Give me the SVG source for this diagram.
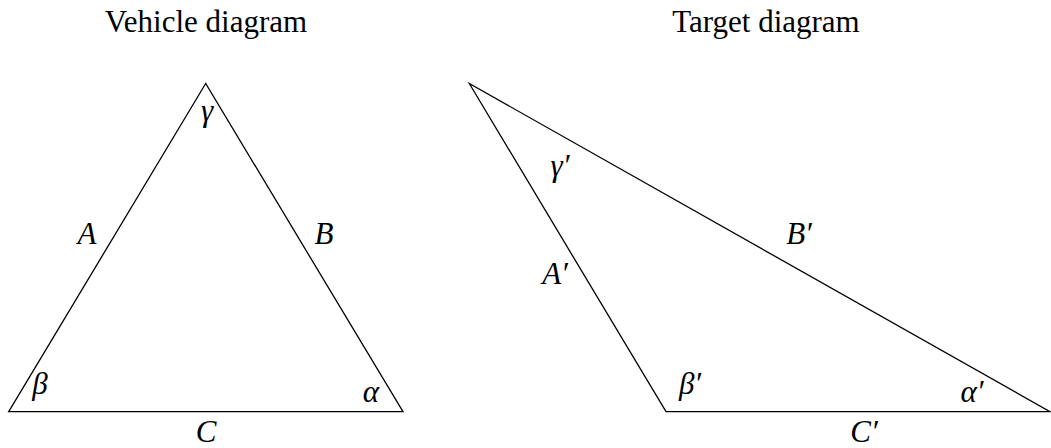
<svg xmlns="http://www.w3.org/2000/svg" width="1051" height="448" viewBox="0 0 1051 448">
<style>
.title{font-family:"Liberation Serif",serif;font-size:31px;fill:#000;text-anchor:middle}
.lbl{font-family:"Liberation Serif",serif;font-style:italic;font-size:31px;fill:#000;text-anchor:middle}
.edge{fill:none;stroke:#000;stroke-width:1.3;stroke-linejoin:miter}
</style>
<rect width="1051" height="448" fill="#fff"/>
<g id="vehicle">
<text class="title" x="206" y="32">Vehicle diagram</text>
<polygon class="edge" points="205.7,83.5 8.7,411.7 403,411.7"/>
<text class="lbl" x="207" y="121">γ</text>
<text class="lbl" x="87" y="244">A</text>
<text class="lbl" x="324" y="244">B</text>
<text class="lbl" x="40" y="394">β</text>
<text class="lbl" x="371" y="402">α</text>
<text class="lbl" x="206" y="442">C</text>
</g>
<g id="target">
<text class="title" x="766" y="32">Target diagram</text>
<polygon class="edge" points="469.3,83.5 666,411.7 1050,411.7"/>
<text class="lbl" x="560" y="176">γ′</text>
<text class="lbl" x="555" y="284">A′</text>
<text class="lbl" x="799" y="244">B′</text>
<text class="lbl" x="690" y="394">β′</text>
<text class="lbl" x="972" y="402">α′</text>
<text class="lbl" x="864" y="442">C′</text>
</g>
</svg>
